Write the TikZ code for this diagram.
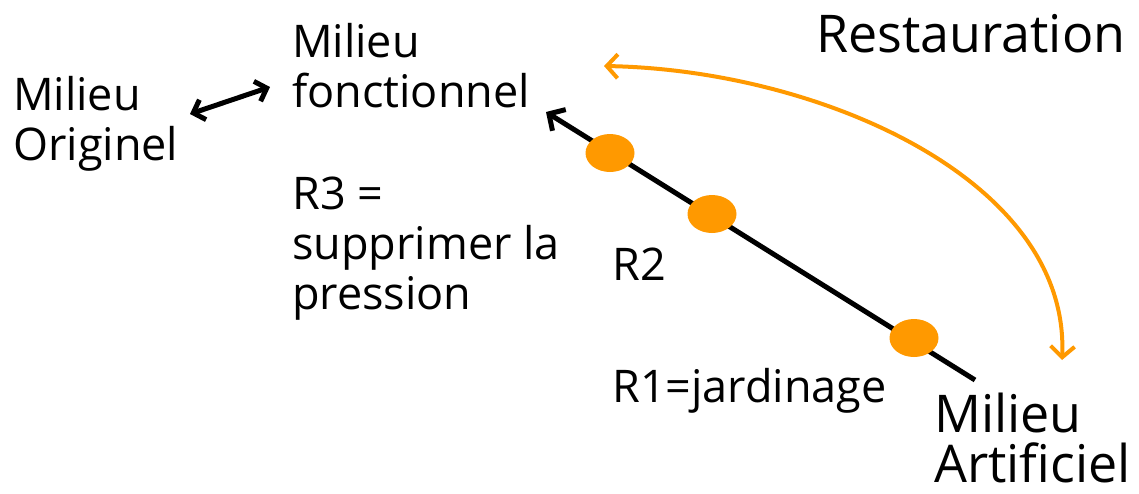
\documentclass[tikz,border=0pt]{standalone}
\usepackage{fontspec}
\setmainfont{Open Sans}
\usetikzlibrary{arrows.meta,shapes.geometric}
\definecolor{dotorange}{RGB}{255,153,0}
\tikzset{
  lbl/.style={anchor=base west, inner sep=0pt, align=left, font=\fontsize{45}{50}\selectfont},
  biglbl/.style={anchor=base west, inner sep=0pt, align=left, font=\fontsize{52}{50}\selectfont},
  blackarrow/.style={line width=5pt, -{Straight Barb[length=12pt,width=25pt,line width=5pt]}},
  dblarrow/.style={line width=5pt, {Straight Barb[length=10pt,width=21pt,line width=5pt]}-{Straight Barb[length=10pt,width=21pt,line width=5pt]}},
  orangearrow/.style={draw=dotorange, line width=4pt, {Straight Barb[length=11pt,width=24pt,line width=4pt]}-{Straight Barb[length=11pt,width=24pt,line width=4pt]}},
  dot/.style={ellipse, fill=dotorange, minimum width=49pt, minimum height=38pt, inner sep=0pt}
}
\begin{document}
\begin{tikzpicture}[x=1pt,y=-1pt]
\useasboundingbox (0,0) rectangle (1139,493);
\node[lbl] (orig) at (13,160) {Milieu\\Originel};
\node[lbl] (fonc) at (292,107) {Milieu\\fonctionnel};
\node[biglbl] (rest) at (816,52) {Restauration};
\node[lbl] (r3) at (292,309) {R3 =\\supprimer la\\pression};
\node[lbl] (r2) at (612,280) {R2};
\node[lbl] (r1) at (612,402) {R1=jardinage};
\node[biglbl] (art) at (934,482) {Milieu\\Artificiel};
\coordinate (lineS) at (975,380);
\coordinate (lineE) at (546,112);
\draw[blackarrow] (lineS) -- (lineE);
\node[dot] (d1) at (610,153) {};
\node[dot] (d2) at (712,214) {};
\node[dot] (d3) at (914,338) {};
\coordinate (dbA) at (190,114);
\coordinate (dbB) at (270,87);
\draw[dblarrow] (dbA) -- (dbB);
\coordinate (arcA) at (604,66);
\coordinate (arcB) at (1062,360);
\draw[orangearrow] (arcA) .. controls (820,70) and (1070,180) .. (arcB);
\end{tikzpicture}
\end{document}
